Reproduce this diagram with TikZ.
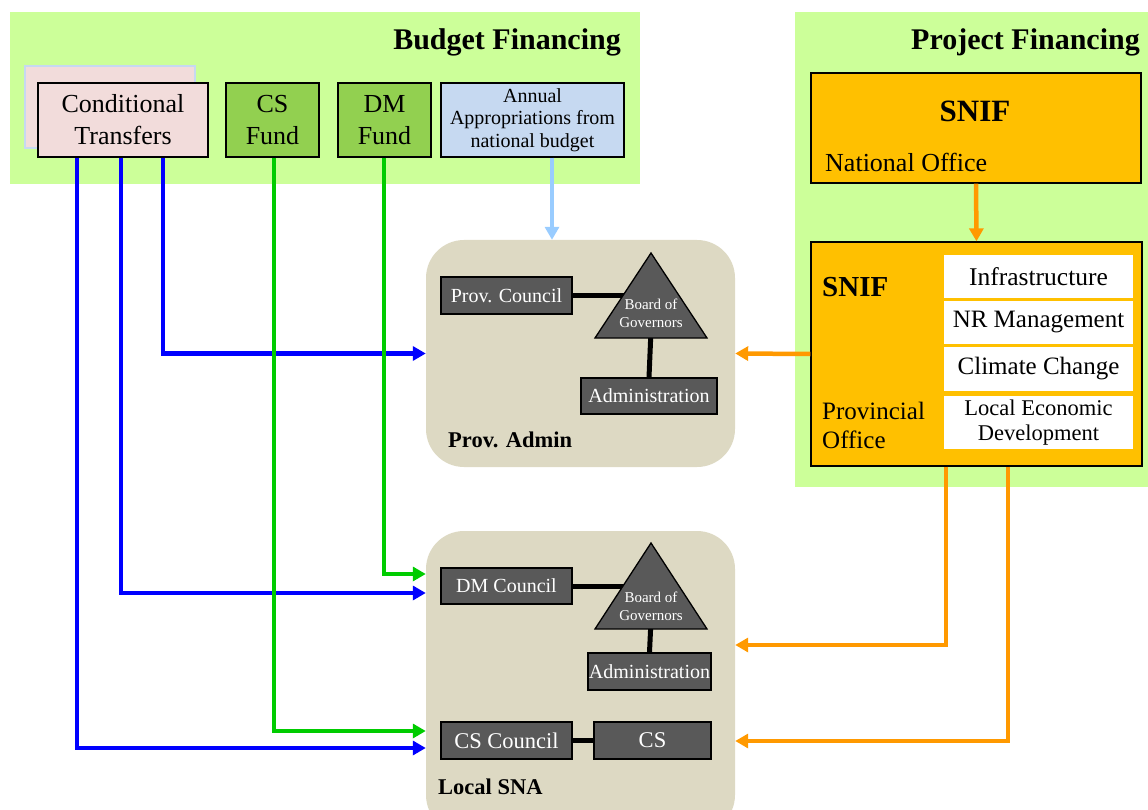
\documentclass[tikz,border=0pt]{standalone}
\usepackage{fontspec}
\setmainfont{Liberation Serif}
\usetikzlibrary{arrows.meta}
\definecolor{bggreen}{HTML}{CCFF99}
\definecolor{ctpink}{HTML}{F2DCDB}
\definecolor{fundgreen}{HTML}{92D050}
\definecolor{apblue}{HTML}{C6D9F1}
\definecolor{tan}{HTML}{DDD9C3}
\definecolor{darkbox}{HTML}{595959}
\definecolor{snif}{HTML}{FFC000}
\definecolor{arrorange}{HTML}{FF9900}
\definecolor{arrlblue}{HTML}{99CCFF}
\definecolor{arrgreen}{HTML}{00CC00}
\definecolor{arrblue}{HTML}{0000FF}
\newcommand\fsz[2]{\fontsize{#1}{#2}\selectfont}
\begin{document}
\begin{tikzpicture}[x=1pt,y=-1pt,
  box/.style={draw=black, line width=1.3pt, inner sep=0pt, align=center},
  dbox/.style={box, fill=darkbox, text=white},
  wbox/.style={fill=white, inner sep=0pt, align=center, minimum width=189pt},
  area/.style={fill=tan, rounded corners=38pt},
  link/.style={line width=5pt, black},
  arr/.style={line width=4.5pt, -{Triangle[length=13pt,width=14pt]}},
  title/.style={font=\fsz{30}{34}\bfseries, anchor=east, inner sep=0pt},
  lbl/.style={font=\fsz{22.5}{26}\bfseries, anchor=west, inner sep=0pt}
]
\useasboundingbox (0,0) rectangle (1148,810);
\clip (0,0) rectangle (1148,810);

% backgrounds
\fill[bggreen] (10,12) rectangle (640,184);
\fill[bggreen] (795,12) rectangle (1148,487);
\node[title] (bftitle) at (621,42) {Budget Financing};
\node[title] (pftitle) at (1140,42) {Project Financing};

% budget sources
\node[draw=apblue, fill=ctpink, line width=1.5pt, minimum width=170pt, minimum height=82pt, inner sep=0pt] (ctshadow) at (110,107) {};
\node[box, fill=ctpink, minimum width=170pt, minimum height=74pt, font=\fsz{26}{32}] (ct) at (123,120) {Conditional\\Transfers};
\node[box, fill=fundgreen, minimum width=93pt, minimum height=74pt, font=\fsz{26}{32}] (csf) at (272.5,120) {CS\\Fund};
\node[box, fill=fundgreen, minimum width=93pt, minimum height=74pt, font=\fsz{26}{32}] (dmf) at (384.5,120) {DM\\Fund};
\node[box, fill=apblue, minimum width=183pt, minimum height=74pt, font=\fsz{20}{22.5}] (ann) at (532.5,120) {Annual\\Appropriations from\\national budget};

% project financing
\node[box, fill=snif, minimum width=330pt, minimum height=110pt] (nat) at (976,128) {};
\node[font=\fsz{31}{34}\bfseries, inner sep=0pt] (natsnif) at (975,111) {SNIF};
\node[font=\fsz{26}{30}, anchor=west, inner sep=0pt] (natoff) at (825,162) {National Office};

\node[box, fill=snif, minimum width=331pt, minimum height=224pt] (prov) at (976.5,354) {};
\node[font=\fsz{29}{32}\bfseries, anchor=west, inner sep=0pt] (provsnif) at (822,287) {SNIF};
\node[font=\fsz{25}{29}, anchor=west, align=left, inner sep=0pt] (provoff) at (822,425.5) {Provincial\\Office};
\node[wbox, minimum height=43pt, font=\fsz{25.5}{29}] (infra) at (1038.5,276.5) {Infrastructure};
\node[wbox, minimum height=43pt, font=\fsz{25}{29}] (nrm) at (1038.5,322.5) {NR Management};
\node[wbox, minimum height=44pt, font=\fsz{25}{29}] (cc) at (1038.5,369) {Climate Change};
\node[wbox, minimum height=53pt, font=\fsz{22.5}{25}] (led) at (1038.5,422.5) {Local Economic\\Development};

% Prov. Admin area
\node[area, minimum width=309pt, minimum height=227pt, inner sep=0pt] (pa) at (580.5,353.5) {};
\node[lbl] (palbl) at (448,440) {Prov. Admin};
\node[dbox, minimum width=131pt, minimum height=37pt, font=\fsz{20}{23}] (pc) at (506.5,295.5) {Prov. Council};
\node[dbox, minimum width=136pt, minimum height=36pt, font=\fsz{20}{23}] (adm1) at (649,396) {Administration};
\coordinate (t1l) at (632,295.5);
\coordinate (t1b) at (651,330);
\draw[link] (pc.east) -- (t1l);
\draw[link] (t1b) -- (adm1.north);
\filldraw[fill=darkbox, draw=black, line width=1.3pt] (595,338) -- (651,253) -- (707,338) -- cycle;
\node[text=white, font=\fsz{15}{18}, align=center, inner sep=0pt] (bog1) at (651,313) {Board of\\Governors};

% Local SNA area
\node[area, minimum width=309pt, minimum height=302pt, inner sep=0pt] (lsna) at (580.5,682) {};
\node[lbl] (lsnalbl) at (438,787) {Local SNA};
\node[dbox, minimum width=131pt, minimum height=36pt, font=\fsz{20}{23}] (dmc) at (506.5,586) {DM Council};
\node[dbox, minimum width=123pt, minimum height=37pt, font=\fsz{20}{23}] (adm2) at (649.5,671.5) {Administration};
\node[dbox, minimum width=131pt, minimum height=37pt, font=\fsz{22.5}{25}] (csc) at (506.5,740.5) {CS Council};
\node[dbox, minimum width=117pt, minimum height=37pt, font=\fsz{22.5}{25}] (cs) at (652.5,740.5) {CS};
\coordinate (t2l) at (632,586);
\coordinate (t2b) at (651,620);
\draw[link] (dmc.east) -- (t2l);
\draw[link] (t2b) -- (adm2.north);
\draw[link] (csc.east) -- (cs.west);
\filldraw[fill=darkbox, draw=black, line width=1.3pt] (595,629) -- (651,543) -- (707,629) -- cycle;
\node[text=white, font=\fsz{15}{18}, align=center, inner sep=0pt] (bog2) at (651,606) {Board of\\Governors};

% arrows: budget
\draw[arr, arrlblue] (ann.south -| 552,0) -- (pa.north -| 552,0);
\draw[arr, arrblue] (ct.south -| 163,0) |- (pa.west);
\draw[arr, arrblue] (ct.south -| 121,0) |- (lsna.west |- 0,593);
\draw[arr, arrblue] (ct.south -| 77,0) |- (lsna.west |- 0,748);
\draw[arr, arrgreen] (csf.south -| 274,0) |- (lsna.west |- 0,731);
\draw[arr, arrgreen] (dmf.south -| 384,0) |- (lsna.west |- 0,574);

% arrows: project
\draw[arr, arrorange] (nat.south) -- (prov.north);
\draw[arr, arrorange] (prov.west) -- (pa.east);
\draw[arr, arrorange] (prov.south -| 946,0) |- (lsna.east |- 0,645);
\draw[arr, arrorange] (prov.south -| 1008,0) |- (lsna.east |- 0,741);
\end{tikzpicture}
\end{document}
